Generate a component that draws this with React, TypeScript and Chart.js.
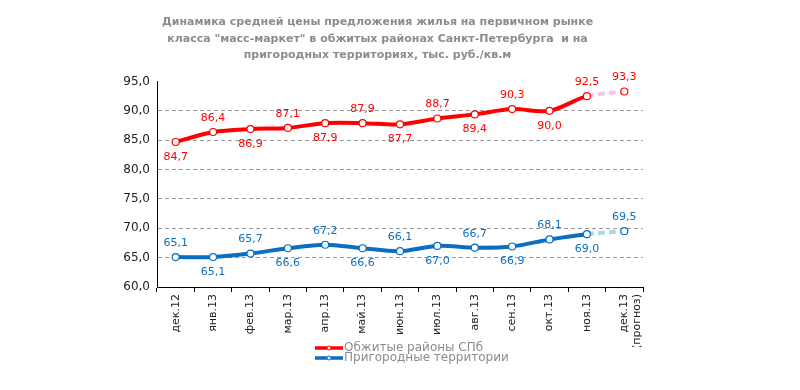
import React, { useEffect, useRef } from "react";
import { Chart, registerables } from "chart.js";

Chart.register(...registerables);

const categories: (string | string[])[] = [
  "дек.12", "янв.13", "фев.13", "мар.13", "апр.13", "май.13", "июн.13",
  "июл.13", "авг.13", "сен.13", "окт.13", "ноя.13", ["дек.13", "(прогноз)"],
];
const spbValues = [84.7, 86.4, 86.9, 87.1, 87.9, 87.9, 87.7, 88.7, 89.4, 90.3, 90.0, 92.5, 93.3];
const suburbValues = [65.1, 65.1, 65.7, 66.6, 67.2, 66.6, 66.1, 67.0, 66.7, 66.9, 68.1, 69.0, 69.5];
const seriesNames = ["Обжитые районы СПб", "Пригородные территории"];
const titleLines = [
  "Динамика средней цены предложения жилья на первичном рынке",
  "класса \"масс-маркет\" в обжитых районах Санкт-Петербурга  и на",
  "пригородных территориях, тыс. руб./кв.м",
];
const yTicks = [60, 65, 70, 75, 80, 85, 90, 95];

// label placement: 1 = above, -1 = below
const spbPlace = [-1, 1, -1, 1, -1, 1, -1, 1, -1, 1, -1, 1, 1];
const subPlace = [1, -1, 1, -1, 1, -1, 1, -1, 1, -1, 1, -1, 1];

const RED = "#ff0000";
const BLUE = "#0a6fc2";
const PINK = "#f3c2f0";
const LIGHTBLUE = "#a9d9e8";
const FONT = "'DejaVu Sans', Verdana, sans-serif";

const fmt = (v: number) => v.toFixed(1).replace(".", ",");

const labelPlugin = {
  id: "valueLabels",
  afterDatasetsDraw(chart: any) {
    const ctx = chart.ctx;
    const places = [spbPlace, subPlace];
    const colors = [RED, BLUE];
    chart.data.datasets.forEach((ds: any, di: number) => {
      const meta = chart.getDatasetMeta(di);
      meta.data.forEach((pt: any, i: number) => {
        const v = ds.data[i];
        ctx.save();
        ctx.font = `11px ${FONT}`;
        ctx.fillStyle = colors[di];
        ctx.textAlign = "center";
        ctx.textBaseline = "middle";
        const dy = places[di][i] > 0 ? -14 : 15;
        ctx.fillText(fmt(v), pt.x, pt.y + dy);
        ctx.restore();
      });
    });
  },
};

const legendPlugin = {
  id: "customLegend",
  afterDraw(chart: any) {
    const ctx = chart.ctx;
    const items = [
      { name: seriesNames[0], color: RED, y: 348 },
      { name: seriesNames[1], color: BLUE, y: 358 },
    ];
    items.forEach((it) => {
      ctx.save();
      ctx.strokeStyle = it.color;
      ctx.lineWidth = 3.5;
      ctx.beginPath();
      ctx.moveTo(315, it.y);
      ctx.lineTo(343, it.y);
      ctx.stroke();
      ctx.fillStyle = "#fff";
      ctx.strokeStyle = it.color;
      ctx.lineWidth = 1;
      ctx.beginPath();
      ctx.arc(329, it.y, 2, 0, Math.PI * 2);
      ctx.fill();
      ctx.stroke();
      ctx.font = `12px ${FONT}`;
      ctx.fillStyle = "#8c8c8c";
      ctx.textAlign = "left";
      ctx.textBaseline = "middle";
      ctx.fillText(it.name, 344, it.y);
      ctx.restore();
    });
  },
};

export default function App() {
  const ref = useRef<HTMLCanvasElement>(null);
  useEffect(() => {
    document.body.style.margin = "0";
    const last = categories.length - 1;
    const seg = (solid: string, light: string) => ({
      borderColor: (c: any) => (c.p1DataIndex === last ? light : solid),
      borderDash: (c: any) => (c.p1DataIndex === last ? [7, 4] : undefined),
    });
    const chart = new Chart(ref.current!, {
      type: "line",
      data: {
        labels: categories,
        datasets: [
          {
            label: seriesNames[0],
            data: spbValues,
            borderColor: RED,
            borderWidth: 4,
            tension: 0.3,
            pointRadius: 3.5,
            pointBorderWidth: 1.2,
            pointBackgroundColor: "#fff",
            pointBorderColor: RED,
            segment: seg(RED, PINK),
          },
          {
            label: seriesNames[1],
            data: suburbValues,
            borderColor: BLUE,
            borderWidth: 4,
            tension: 0.3,
            pointRadius: 3.5,
            pointBorderWidth: 1.2,
            pointBackgroundColor: "#fff",
            pointBorderColor: BLUE,
            segment: seg(BLUE, LIGHTBLUE),
          },
        ],
      },
      options: {
        animation: false,
        responsive: false,
        maintainAspectRatio: false,
        layout: { padding: { left: 112, right: 157, top: 0, bottom: 43 } },
        plugins: {
          legend: { display: false },
          tooltip: { enabled: false },
          title: {
            display: true,
            text: titleLines,
            color: "#8c8c8c",
            font: { family: FONT, size: 11, weight: "bold", lineHeight: 1.5 },
            padding: { top: 14, bottom: 18 },
          },
        },
        scales: {
          x: {
            offset: true,
            grid: {
              offset: true,
              drawOnChartArea: false,
              drawTicks: true,
              tickLength: 5,
              color: "#000",
            },
            border: { color: "#000", width: 1 },
            ticks: {
              minRotation: 90,
              maxRotation: 90,
              autoSkip: false,
              padding: 2,
              color: "#222",
              font: { family: FONT, size: 11 },
            },
            afterFit: (s: any) => {
              s.height = 60;
            },
          },
          y: {
            min: 60,
            max: 95,
            afterBuildTicks: (s: any) => {
              s.ticks = yTicks.map((v) => ({ value: v }));
            },
            grid: {
              drawTicks: false,
              color: (c: any) => (c.tick && c.tick.value === 95 ? "rgba(0,0,0,0)" : "#9a9a9a"),
              lineWidth: 1,
            },
            border: { color: "#000", width: 1, dash: [4, 3] },
            ticks: {
              padding: 7,
              color: "#222",
              font: { family: FONT, size: 12 },
              callback: (v: any) => fmt(Number(v)),
            },
            afterFit: (s: any) => {
              s.width = 45;
            },
          },
        },
      },
      plugins: [labelPlugin, legendPlugin],
    });
    return () => chart.destroy();
  }, []);
  return (
    <div style={{ width: 800, height: 390, background: "#fff" }}>
      <canvas ref={ref} width={800} height={390} style={{ width: 800, height: 390 }} />
    </div>
  );
}
